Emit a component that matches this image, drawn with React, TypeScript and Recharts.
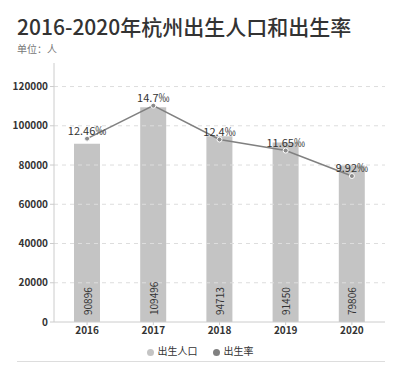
import React from 'react';
import { ComposedChart, Bar, Line, XAxis, YAxis, ReferenceLine, Legend, LabelList } from 'recharts';

const years = ['2016', '2017', '2018', '2019', '2020'];
const births = [90896, 109496, 94713, 91450, 79806];
const rates = [12.46, 14.7, 12.4, 11.65, 9.92];
const yTicks = [0, 20000, 40000, 60000, 80000, 100000, 120000];

const data = years.map((year, i) => ({ year, births: births[i], rate: rates[i] }));

const FONT = '"Noto Sans CJK SC", "Noto Sans", sans-serif';

const BarValue = (props: any) => {
  const { x, y, width, height, value } = props;
  const cx = x + width / 2;
  const by = y + height - 7;
  return (
    <text
      x={cx}
      y={by}
      transform={`rotate(-90 ${cx} ${by})`}
      textAnchor="start"
      dominantBaseline="central"
      fontSize={10}
      fill="#333"
      fontFamily={FONT}
    >
      {value}
    </text>
  );
};

const App: React.FC = () => {
  return (
    <div style={{ position: 'absolute', left: 0, top: 0, width: 400, height: 366, background: '#fff', fontFamily: FONT }}>
      <div style={{ position: 'absolute', left: 17, top: 11, fontSize: 21, fontWeight: 500, color: '#333', lineHeight: '30px', whiteSpace: 'nowrap' }}>
        2016-2020年杭州出生人口和出生率
      </div>
      <div style={{ position: 'absolute', left: 17, top: 42, fontSize: 10, color: '#777', lineHeight: '14px' }}>
        单位：人
      </div>
      <ComposedChart width={400} height={366} data={data} margin={{ top: 63, right: 15, left: 0, bottom: 7 }}>
        {yTicks.slice(1).map((t) => (
          <ReferenceLine key={t} yAxisId="left" y={t} stroke="#ddd" strokeDasharray="4 4" />
        ))}
        <XAxis
          dataKey="year"
          height={20}
          tickSize={3}
          tickMargin={2}
          tickLine={{ stroke: '#ccc' }}
          axisLine={{ stroke: '#ccc' }}
          tick={{ fontSize: 10, fill: '#333', fontWeight: 700, fontFamily: FONT }}
        />
        <YAxis
          yAxisId="left"
          width={54}
          domain={[0, 132000]}
          ticks={yTicks}
          interval={0}
          tickSize={4}
          tickLine={{ stroke: '#ccc' }}
          axisLine={{ stroke: '#ccc' }}
          tick={{ fontSize: 10, fill: '#333', fontWeight: 700, fontFamily: FONT }}
        />
        <YAxis yAxisId="right" orientation="right" hide domain={[0, 17.6]} />
        <Legend
          verticalAlign="bottom"
          iconType="circle"
          iconSize={7}
          wrapperStyle={{ left: 5, width: 400, fontSize: 10, lineHeight: '17px', color: '#333', fontFamily: FONT }}
          formatter={(v: string) => (
            <span style={{ color: '#333', paddingRight: v === '出生人口' ? 5 : 0 }}>{v}</span>
          )}
        />
        <Bar yAxisId="left" dataKey="births" name="出生人口" fill="#c4c4c4" barSize={26} isAnimationActive={false}>
          <LabelList dataKey="births" content={<BarValue />} />
        </Bar>
        <Line
          yAxisId="right"
          dataKey="rate"
          name="出生率"
          type="linear"
          stroke="#808080"
          strokeWidth={1.5}
          dot={{ r: 2.5, fill: '#8a8a8a', stroke: '#fff', strokeWidth: 1 }}
          isAnimationActive={false}
        >
          <LabelList
            dataKey="rate"
            position="top"
            offset={4}
            formatter={(v: any) => `${v}‰`}
            style={{ fontSize: 11, fill: '#333', fontFamily: FONT }}
          />
        </Line>
      </ComposedChart>
      <div style={{ position: 'absolute', left: 17, top: 361, width: 368, height: 1, background: '#ddd' }} />
    </div>
  );
};

export default App;
